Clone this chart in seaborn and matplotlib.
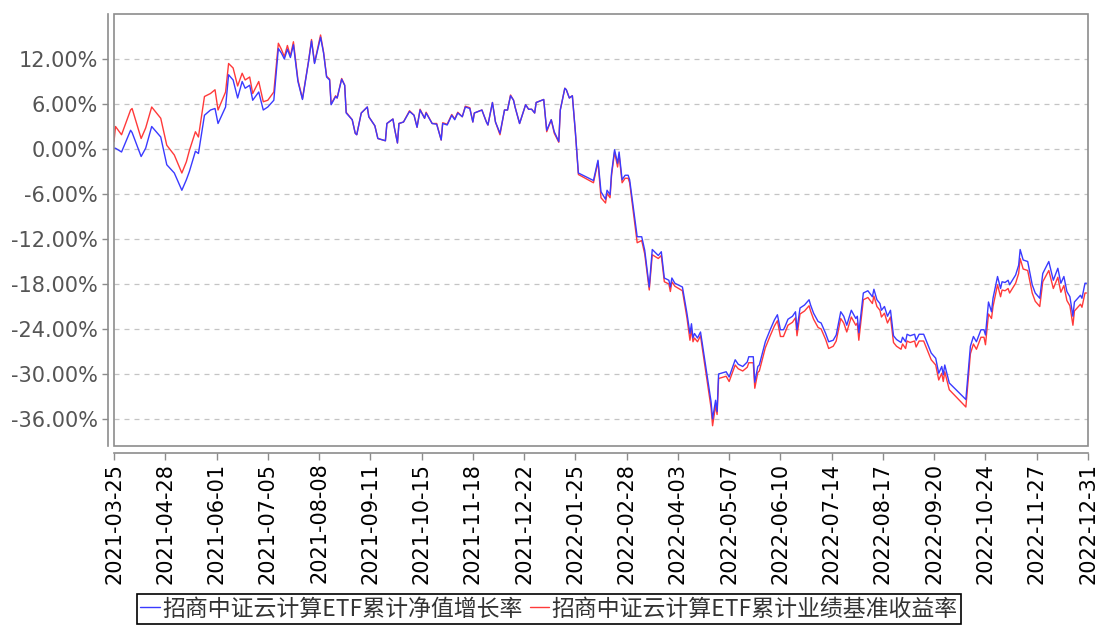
"""招商中证云计算ETF 累计净值增长率 vs 业绩基准收益率 (2021-03-25 ~ 2022-12-31)"""
import numpy as np
import pandas as pd
import matplotlib
matplotlib.use("Agg")
import matplotlib.pyplot as plt
import matplotlib.dates as mdates
from matplotlib.patches import Rectangle
from matplotlib.lines import Line2D
from matplotlib.ticker import FuncFormatter
import seaborn as sns

# ------------------------------------------------------------
# 数据（从图上读取，单位 %）
# ------------------------------------------------------------
START_DATE = "2021-03-25"
END_DATE = "2022-12-31"

days_since_start = [
    0, 1, 5, 11, 12, 18, 21, 25, 31, 35, 40, 45, 48, 50, 54, 56, 60, 64, 67, 69,
    74, 76, 79, 82, 85, 87, 90, 92, 96, 99, 102, 106, 109, 111, 113, 115, 117, 119, 122, 125,
    129, 131, 133, 137, 139, 141, 143, 144, 147, 148, 151, 153, 154, 158, 160, 161, 164, 168, 169, 173,
    175, 180, 181, 185, 186, 188, 189, 192, 196, 199, 201, 203, 206, 207, 211, 214, 217, 218, 221, 224,
    226, 228, 231, 233, 236, 238, 239, 244, 247, 248, 251, 253, 256, 259, 261, 263, 265, 266, 269, 273,
    275, 277, 279, 280, 285, 287, 290, 292, 295, 296, 299, 300, 302, 304, 306, 308, 318, 321, 323, 326,
    327, 329, 330, 332, 334, 335, 337, 339, 341, 342, 347, 350, 352, 355, 357, 361, 363, 365, 368, 369,
    370, 372, 377, 380, 382, 383, 384, 385, 387, 389, 390, 396, 397, 399, 400, 401, 406, 408, 412, 414,
    417, 420, 421, 424, 425, 427, 428, 432, 435, 438, 440, 442, 444, 445, 447, 450, 452, 453, 455, 458,
    461, 462, 464, 467, 469, 472, 474, 477, 479, 482, 484, 486, 489, 492, 493, 494, 497, 500, 503, 504,
    506, 508, 509, 511, 513, 515, 517, 519, 522, 523, 525, 526, 528, 531, 532, 534, 537, 539, 542, 545,
    547, 549, 550, 551, 553, 554, 565, 567, 568, 570, 572, 575, 577, 578, 580, 582, 583, 586, 588, 589,
    591, 593, 594, 598, 600, 601, 603, 606, 609, 611, 614, 616, 620, 623, 626, 628, 630, 632, 634, 636,
    637, 641, 642, 644, 645,
]

nav_growth = [  # 累计净值增长率（蓝）
    0.1, 0.1, -0.4, 2.5, 2.2, -1.0, 0.1, 3.0, 1.6, -2.1, -3.2, -5.5, -4.1, -3.0, -0.3, -0.6, 4.5, 5.2, 5.4, 3.4,
    5.6, 9.9, 9.2, 6.8, 9.0, 8.1, 8.5, 6.5, 7.6, 5.2, 5.6, 6.5, 13.4, 12.8, 12.0, 13.3, 12.2, 13.9, 9.0, 6.6,
    11.6, 14.4, 11.4, 14.9, 12.8, 9.6, 9.2, 5.9, 7.0, 6.8, 9.3, 8.5, 4.8, 3.9, 2.1, 1.9, 4.8, 5.6, 4.3, 3.1,
    1.4, 1.1, 3.4, 4.0, 2.8, 0.8, 3.4, 3.6, 5.0, 4.5, 2.9, 5.2, 4.1, 4.8, 3.4, 3.3, 1.2, 3.4, 3.2, 4.5,
    3.9, 4.8, 4.3, 5.6, 5.4, 3.6, 4.8, 5.2, 3.6, 3.2, 6.2, 3.6, 2.1, 5.2, 5.2, 7.1, 6.5, 5.6, 3.4, 5.9,
    5.3, 5.3, 4.8, 6.2, 6.6, 2.5, 3.9, 2.3, 1.0, 5.2, 8.1, 7.9, 6.8, 7.1, 2.3, -3.2, -4.2, -1.5, -5.7, -6.7,
    -5.5, -6.1, -3.2, -0.1, -1.9, -0.4, -4.1, -3.5, -3.5, -4.1, -11.7, -11.7, -13.5, -18.4, -13.4, -14.2, -13.7, -17.2, -17.5, -18.4,
    -17.2, -17.9, -18.4, -21.9, -24.6, -23.3, -25.2, -24.6, -25.2, -24.4, -25.7, -33.7, -36.0, -33.5, -35.0, -30.0, -29.7, -30.4, -28.1, -28.7,
    -29.0, -28.4, -27.7, -27.7, -31.1, -29.0, -28.8, -25.7, -24.2, -22.8, -22.1, -24.1, -24.1, -23.7, -22.7, -22.3, -21.7, -24.1, -21.2, -20.8,
    -20.1, -20.8, -21.9, -23.0, -23.2, -24.6, -25.7, -25.5, -24.8, -21.7, -22.3, -23.5, -21.5, -22.6, -22.3, -24.5, -19.2, -18.9, -19.7, -18.7,
    -20.1, -20.6, -21.5, -21.0, -22.3, -21.5, -24.9, -25.4, -25.8, -25.1, -25.7, -24.7, -24.9, -24.7, -25.5, -24.7, -24.7, -25.7, -27.2, -27.9,
    -29.9, -29.0, -30.1, -28.8, -30.4, -31.2, -33.4, -28.6, -26.3, -25.0, -25.7, -24.1, -24.1, -24.8, -20.4, -21.7, -19.9, -17.0, -18.6, -17.7,
    -17.8, -17.5, -18.1, -16.8, -15.5, -13.4, -14.8, -15.0, -18.1, -19.2, -19.9, -16.6, -15.0, -17.5, -15.9, -17.9, -17.0, -19.0, -19.7, -22.3,
    -20.4, -19.5, -19.9, -17.9, -17.9,
]

benchmark_return = [  # 累计业绩基准收益率（红）
    1.0, 3.0, 1.9, 5.2, 5.4, 1.4, 2.8, 5.6, 4.1, 0.5, -0.8, -3.2, -1.7, -0.2, 2.3, 1.6, 7.0, 7.4, 7.9, 5.2,
    7.6, 11.4, 10.8, 8.4, 10.1, 9.2, 9.6, 7.4, 9.0, 6.3, 6.5, 7.6, 14.1, 13.3, 12.3, 13.8, 12.4, 14.3, 9.2, 6.7,
    11.7, 14.6, 11.5, 15.2, 12.9, 9.7, 9.3, 6.0, 7.1, 6.8, 9.4, 8.5, 4.9, 3.9, 2.1, 1.9, 4.8, 5.6, 4.3, 3.1,
    1.4, 1.1, 3.4, 4.0, 2.8, 0.8, 3.4, 3.6, 5.1, 4.5, 2.9, 5.3, 4.1, 4.9, 3.4, 3.4, 1.2, 3.5, 3.3, 4.6,
    4.0, 4.9, 4.3, 5.7, 5.5, 3.6, 4.8, 5.2, 3.6, 3.2, 6.2, 3.6, 1.9, 5.2, 5.2, 7.2, 6.5, 5.6, 3.4, 5.9,
    5.3, 5.3, 4.8, 6.2, 6.6, 2.3, 3.9, 2.1, 0.9, 5.2, 8.1, 7.9, 6.8, 7.1, 2.2, -3.4, -4.5, -1.7, -6.5, -7.2,
    -5.9, -6.5, -3.5, -0.4, -2.4, -0.8, -4.5, -3.9, -3.9, -4.5, -12.5, -12.2, -14.0, -18.8, -14.1, -14.6, -14.2, -17.7, -18.0, -19.0,
    -17.7, -18.3, -18.9, -22.5, -25.5, -24.0, -25.7, -25.2, -25.7, -24.9, -26.3, -34.5, -36.9, -34.2, -35.4, -30.6, -30.3, -31.0, -28.8, -29.3,
    -29.6, -29.1, -28.5, -28.5, -31.9, -29.8, -29.6, -26.5, -25.0, -23.6, -22.9, -25.0, -25.0, -24.5, -23.5, -23.1, -22.5, -24.9, -22.0, -21.6,
    -20.9, -21.6, -22.7, -23.8, -24.0, -25.4, -26.6, -26.3, -25.6, -22.6, -23.2, -24.4, -22.4, -23.5, -23.2, -25.5, -20.1, -19.8, -20.6, -19.6,
    -21.0, -21.5, -22.4, -21.9, -23.2, -22.4, -25.8, -26.3, -26.7, -26.0, -26.6, -25.6, -25.8, -25.6, -26.4, -25.6, -25.6, -26.6, -28.1, -28.8,
    -30.8, -29.9, -31.0, -29.7, -31.3, -32.1, -34.4, -29.6, -27.3, -26.0, -26.7, -25.1, -25.1, -26.1, -22.0, -22.6, -21.0, -18.1, -19.7, -18.8,
    -18.9, -18.6, -19.2, -17.9, -16.6, -14.6, -16.0, -16.2, -19.2, -20.3, -21.0, -17.7, -16.2, -18.6, -17.1, -19.1, -18.2, -20.2, -20.9, -23.5,
    -21.6, -20.7, -21.1, -19.2, -19.2,
]

LABEL_NAV = "招商中证云计算ETF累计净值增长率"
LABEL_BENCH = "招商中证云计算ETF累计业绩基准收益率"
Y_TICKS = [-36, -30, -24, -18, -12, -6, 0, 6, 12]
TICK_STEP_DAYS = 34

dates = pd.Timestamp(START_DATE) + pd.to_timedelta(days_since_start, unit="D")
df = pd.DataFrame({"date": dates, "nav": nav_growth, "bench": benchmark_return})

# ------------------------------------------------------------
# 绘图
# ------------------------------------------------------------
sns.set_style("white")
plt.rcParams["font.family"] = ["DejaVu Sans", "Noto Sans CJK SC"]

BLUE = "#3a3aff"
RED = "#ff3a3a"
GRAY = "#8c8c8c"

fig = plt.figure(figsize=(10.98, 6.32), dpi=100)
ax = fig.add_axes([114 / 1098, 1 - 446 / 632, (1088 - 114) / 1098, (446 - 14) / 632])

# 红线先画，蓝线在上
sns.lineplot(data=df, x="date", y="bench", ax=ax, color=RED, linewidth=1.0, estimator=None)
sns.lineplot(data=df, x="date", y="nav", ax=ax, color=BLUE, linewidth=1.0, estimator=None)

ax.set_xlim(pd.Timestamp(START_DATE), pd.Timestamp(END_DATE))
ax.set_ylim(-39.6, 18.0)
ax.set_xlabel("")
ax.set_ylabel("")

# 坐标轴刻度
x_ticks = pd.date_range(START_DATE, END_DATE, freq=f"{TICK_STEP_DAYS}D")
ax.set_xticks(x_ticks)
ax.xaxis.set_major_formatter(mdates.DateFormatter("%Y-%m-%d"))
ax.set_yticks(Y_TICKS)
ax.yaxis.set_major_formatter(FuncFormatter(lambda v, _: f"{v:.2f}%"))
ax.tick_params(axis="x", labelrotation=90, labelsize=15, labelcolor="black",
               color=GRAY, length=5, width=1, direction="out", pad=2)
ax.tick_params(axis="y", labelsize=15, labelcolor="#555555",
               color=GRAY, length=4, width=1, direction="out", pad=3)
ax.tick_params(bottom=True, left=True)

# 水平虚线网格
ax.yaxis.grid(True, linestyle=(0, (4, 4)), color="#c4c4c4", linewidth=0.9)
ax.xaxis.grid(False)

# 坐标轴外移 + 图区外框
for side in ["top", "right"]:
    ax.spines[side].set_visible(False)
ax.spines["left"].set_position(("outward", 4.5))
ax.spines["bottom"].set_position(("outward", 5))
for side in ["left", "bottom"]:
    ax.spines[side].set_color(GRAY)
    ax.spines[side].set_linewidth(1.2)
ax.add_patch(Rectangle((0, 0), 1, 1, transform=ax.transAxes, fill=False,
                       edgecolor=GRAY, linewidth=1.2, clip_on=False, zorder=5))

# 图例（底部居中，有边框）
handles = [Line2D([], [], color=BLUE, linewidth=1.0),
           Line2D([], [], color=RED, linewidth=1.0)]
leg = fig.legend(handles, [LABEL_NAV, LABEL_BENCH], loc="upper center",
                 bbox_to_anchor=(0.5, 1 - 594 / 632), ncol=2, frameon=True,
                 fancybox=False, edgecolor="black", framealpha=1,
                 prop={"family": ["Noto Sans CJK SC", "DejaVu Sans"], "size": 16.5},
                 handlelength=0.85, handletextpad=0.12, columnspacing=0.3,
                 borderpad=0.15, borderaxespad=0)
leg.get_frame().set_linewidth(1.2)
for t in leg.get_texts():
    t.set_color("#333333")

fig.savefig("out.png", dpi=100)
